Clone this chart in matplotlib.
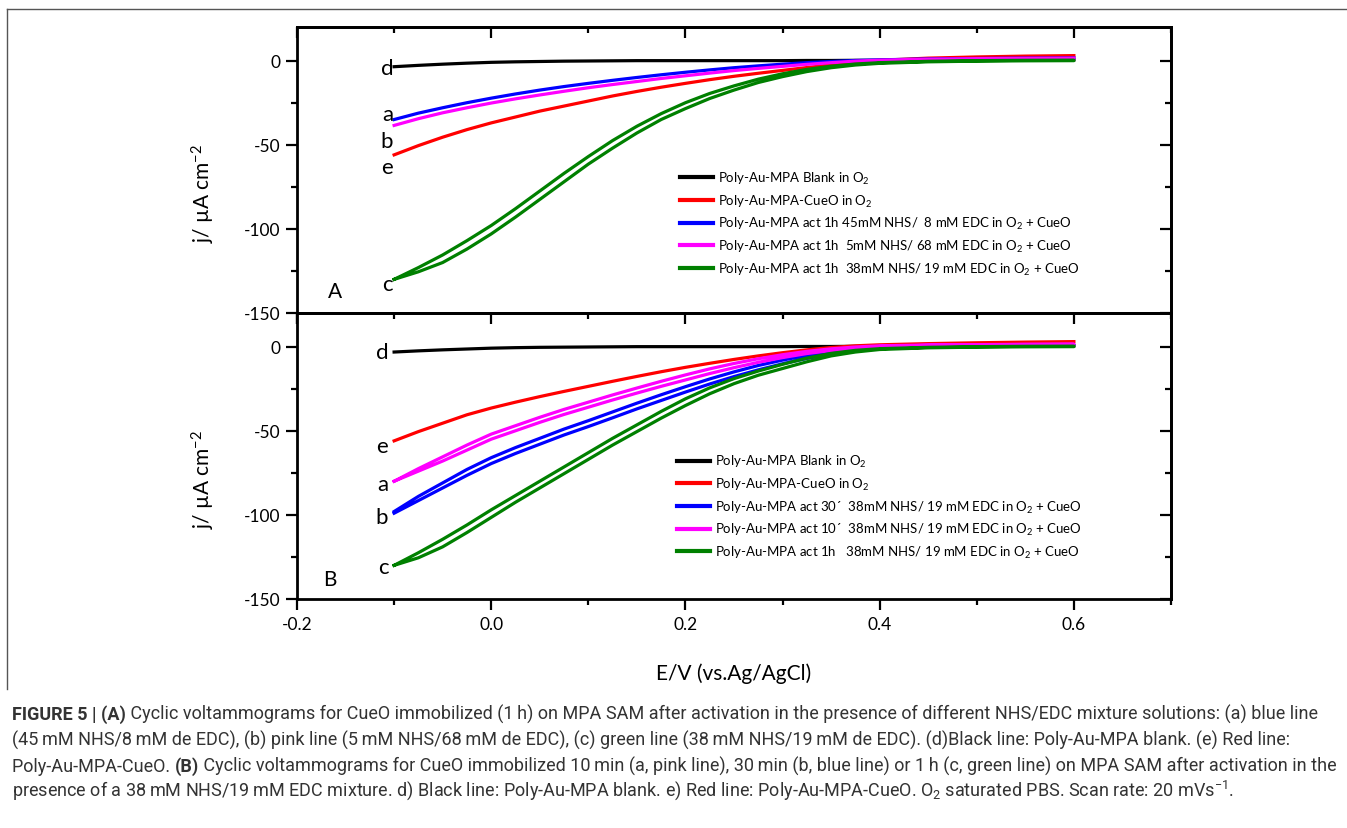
import matplotlib
matplotlib.use("Agg")
import matplotlib.pyplot as plt
from matplotlib import font_manager
from matplotlib.lines import Line2D
from matplotlib.text import Annotation
from matplotlib.ticker import MultipleLocator

# potential grid (V vs Ag/AgCl), shared by every curve
E = [-0.1, -0.075, -0.05, -0.025, 0.0, 0.025, 0.05, 0.075, 0.1, 0.125, 0.15, 0.175, 0.2,
     0.225, 0.25, 0.275, 0.3, 0.325, 0.35, 0.375, 0.4, 0.45, 0.5, 0.55, 0.6]

# panel A, current density (uA cm-2)
a_blank = [-3.6, -2.8, -2.1, -1.5, -1.0, -0.7, -0.5, -0.3, -0.2, -0.1, 0.0, 0.0, 0.0,
           0.0, 0.0, 0.0, 0.0, 0.1, 0.1, 0.2, 0.2, 0.3, 0.4, 0.4, 0.5]
a_cueo = [-56, -50.5, -45.5, -41, -37, -33.5, -30, -27, -24, -21, -18.3, -15.8, -13.5,
          -11.3, -9.3, -7.5, -5.8, -4.1, -2.5, -1.0, 0.2, 1.5, 2.2, 2.7, 3.0]
a_45_8 = [-35, -31.2, -28, -25, -22.3, -19.8, -17.5, -15.4, -13.5, -11.7, -10, -8.4, -6.9,
          -5.5, -4.2, -3.1, -2.1, -1.2, -0.5, 0.1, 0.5, 1.0, 1.3, 1.5, 1.6]
a_5_68 = [-38.5, -34.5, -31, -28, -25.2, -22.7, -20.4, -18.2, -16.1, -14.2, -12.4, -10.6, -9,
          -7.4, -5.9, -4.6, -3.4, -2.2, -1.2, -0.3, 0.3, 0.9, 1.2, 1.4, 1.5]
a_38_19_fwd = [-130, -123, -115.5, -107, -98, -88, -77.5, -67, -57, -47.5, -39, -31.5, -25,
               -19.5, -15, -11, -7.8, -5.2, -3.3, -2, -1.2, -0.4, 0.0, 0.2, 0.3]
a_38_19_rev = [-130, -125.5, -120, -112, -103, -93, -82.5, -72, -61.5, -52, -43, -35, -28.5,
               -22.5, -17.5, -13, -9.5, -6.5, -4.2, -2.6, -1.6, -0.7, -0.3, -0.1, 0.0]

# panel B
b_blank = [-3.2, -2.5, -1.9, -1.4, -0.9, -0.6, -0.4, -0.3, -0.2, -0.1, 0.0, 0.0, 0.0,
           0.0, 0.0, 0.0, 0.0, 0.1, 0.1, 0.2, 0.2, 0.3, 0.4, 0.4, 0.5]
b_cueo = [-56, -50.5, -45.5, -40.5, -36.5, -33, -29.7, -26.6, -23.6, -20.6, -17.7, -14.9, -12.3,
          -9.9, -7.6, -5.5, -3.6, -1.9, -0.5, 0.5, 1.1, 1.8, 2.3, 2.7, 3.0]
b_30min_fwd = [-98, -89, -81, -73, -66, -60, -54.5, -49, -44, -38.8, -33.6, -28.6, -23.8,
               -19.2, -15, -11.2, -8, -5.2, -3, -1.3, -0.2, 0.5, 0.8, 1.0, 1.2]
b_30min_rev = [-99, -91.5, -84, -76.5, -69.5, -63.5, -58, -52.5, -47.5, -42.3, -37, -32, -27,
               -22.2, -17.8, -13.8, -10.2, -7, -4.4, -2.4, -1.0, 0.3, 0.7, 0.9, 1.1]
b_10min_fwd = [-80, -72.5, -65.5, -58.5, -52, -47, -42, -37.3, -33, -28.7, -24.6, -20.6, -16.8,
               -13.2, -10, -7.2, -4.8, -2.8, -1.3, -0.2, 0.5, 1.0, 1.2, 1.4, 1.5]
b_10min_rev = [-80, -74, -68, -61.5, -55, -50, -45, -40.3, -36, -31.7, -27.6, -23.6, -19.8,
               -16, -12.5, -9.3, -6.5, -4.1, -2.3, -0.9, 0.1, 0.8, 1.1, 1.3, 1.4]
b_1h_fwd = [-130, -122.5, -114.5, -106, -97, -88.5, -80, -71.5, -63, -54.5, -46.5, -38.5, -31,
            -24.5, -19, -14.5, -10.5, -6.8, -4, -2.2, -1.2, -0.4, 0.0, 0.2, 0.3]
b_1h_rev = [-130, -125.5, -119, -110.5, -101.5, -92.5, -84, -75.5, -67, -58.5, -50.5, -42.5, -35,
            -28, -22, -17, -13, -9, -5.5, -3.2, -1.7, -0.7, -0.3, -0.1, 0.0]

colors = ["black", "#ff0000", "#0000ff", "#ff00ff", "#008000"]
legend_a = [
    r"Poly-Au-MPA Blank in $\mathregular{O_2}$",
    r"Poly-Au-MPA-CueO in $\mathregular{O_2}$",
    r"Poly-Au-MPA act 1h 45mM NHS/  8 mM EDC in $\mathregular{O_2}$ + CueO",
    r"Poly-Au-MPA act 1h  5mM NHS/ 68 mM EDC in $\mathregular{O_2}$ + CueO",
    r"Poly-Au-MPA act 1h  38mM NHS/ 19 mM EDC in $\mathregular{O_2}$ + CueO",
]
legend_b = [
    r"Poly-Au-MPA Blank in $\mathregular{O_2}$",
    r"Poly-Au-MPA-CueO in $\mathregular{O_2}$",
    r"Poly-Au-MPA act 30´  38mM NHS/ 19 mM EDC in $\mathregular{O_2}$ + CueO",
    r"Poly-Au-MPA act 10´  38mM NHS/ 19 mM EDC in $\mathregular{O_2}$ + CueO",
    r"Poly-Au-MPA act 1h   38mM NHS/ 19 mM EDC in $\mathregular{O_2}$ + CueO",
]
# curve letters: (label, E, j)
letters_a = [("d", -0.101, -4.2), ("a", -0.101, -32), ("b", -0.101, -48),
             ("e", -0.101, -63), ("c", -0.101, -133)]
letters_b = [("d", -0.106, -3), ("e", -0.106, -59), ("a", -0.106, -81.5),
             ("b", -0.106, -101), ("c", -0.106, -131)]

caption = [
    [("FIGURE 5 | (A)", True),
     (" Cyclic voltammograms for CueO immobilized (1\u2009h) on MPA SAM after activation in the "
      "presence of different NHS/EDC mixture solutions: (a) blue line", False)],
    [("(45\u2009mM NHS/8\u2009mM de EDC), (b) pink line (5\u2009mM NHS/68\u2009mM de EDC), (c) green line "
      "(38\u2009mM NHS/19\u2009mM de EDC). (d)Black line: Poly-Au-MPA blank. (e) Red line:", False)],
    [("Poly-Au-MPA-CueO. ", False), ("(B)", True),
     (" Cyclic voltammograms for CueO immobilized 10\u2009min (a, pink line), 30\u2009min (b, blue line) "
      "or 1\u2009h (c, green line) on MPA SAM after activation in the", False)],
    [("presence of a 38\u2009mM NHS/19\u2009mM EDC mixture. d) Black line: Poly-Au-MPA blank. e) Red line: "
      r"Poly-Au-MPA-CueO. $\mathregular{O_2}$ saturated PBS. Scan rate: 20 mVs$\mathregular{^{-1}}$.", False)],
]


def pick_font(names):
    for name in names:
        try:
            font_manager.findfont(name, fallback_to_default=False)
            return name
        except Exception:
            continue
    return "DejaVu Sans"


CHART_FONT = pick_font(["Lato", "Open Sans"])
CAPTION_FONT = pick_font(["Liberation Sans Narrow", "Roboto", "Liberation Sans"])

plt.rcParams["font.family"] = [CHART_FONT, "DejaVu Sans"]
plt.rcParams["axes.unicode_minus"] = False

W, H = 1347, 829
fig = plt.figure(figsize=(W / 100, H / 100), dpi=100)

left, width = 297 / W, 874 / W
ax_a = fig.add_axes([left, (H - 314) / H, width, 286 / H])
ax_b = fig.add_axes([left, (H - 600) / H, width, 286 / H])


def style_axes(ax, show_x):
    ax.set_xlim(-0.2, 0.7)
    ax.set_ylim(-150, 20)
    ax.xaxis.set_major_locator(MultipleLocator(0.2))
    ax.xaxis.set_minor_locator(MultipleLocator(0.1))
    ax.yaxis.set_major_locator(MultipleLocator(50))
    ax.yaxis.set_minor_locator(MultipleLocator(25))
    for sp in ax.spines.values():
        sp.set_linewidth(2.0)
    ax.tick_params(which="major", direction="out", length=8, width=1.6,
                   labelsize=12.5, pad=4)
    ax.tick_params(which="minor", direction="out", length=4.5, width=1.6)
    ax.xaxis.set_major_formatter(plt.FuncFormatter(lambda v, p: f"{v:.1f}"))
    ax.yaxis.set_major_formatter(plt.FuncFormatter(lambda v, p: f"{v:.0f}"))
    if not show_x:
        ax.tick_params(axis="x", labelbottom=False)
    top = ax.secondary_xaxis("top")
    top.xaxis.set_major_locator(MultipleLocator(0.2))
    top.xaxis.set_minor_locator(MultipleLocator(0.1))
    top.tick_params(which="major", direction="in", length=8, width=1.6, labeltop=False)
    top.tick_params(which="minor", direction="in", length=4.5, width=1.6)
    right = ax.secondary_yaxis("right")
    right.yaxis.set_major_locator(MultipleLocator(50))
    right.yaxis.set_minor_locator(MultipleLocator(25))
    right.tick_params(which="major", direction="in", length=8, width=1.6, labelright=False)
    right.tick_params(which="minor", direction="in", length=4.5, width=1.6)
    for sec in (top, right):
        for sp in sec.spines.values():
            sp.set_linewidth(2.0)
    ax.set_ylabel(r"j/ µA cm$\mathregular{^{-2}}$", fontsize=15)
    ax.yaxis.set_label_coords(-0.092, 0.42)


def loop(fwd, rev):
    return E + E[::-1], fwd + rev[::-1]


lw = 2.3
# panel A
ax_a.plot(E, a_blank, color=colors[0], lw=lw, label=legend_a[0])
ax_a.plot(E, a_cueo, color=colors[1], lw=lw, label=legend_a[1])
ax_a.plot(E, a_45_8, color=colors[2], lw=lw, label=legend_a[2])
ax_a.plot(E, a_5_68, color=colors[3], lw=lw, label=legend_a[3])
x, y = loop(a_38_19_fwd, a_38_19_rev)
ax_a.plot(x, y, color=colors[4], lw=lw, label=legend_a[4])

# panel B
ax_b.plot(E, b_blank, color=colors[0], lw=lw, label=legend_b[0])
ax_b.plot(E, b_cueo, color=colors[1], lw=lw, label=legend_b[1])
x, y = loop(b_30min_fwd, b_30min_rev)
ax_b.plot(x, y, color=colors[2], lw=lw, label=legend_b[2])
x, y = loop(b_10min_fwd, b_10min_rev)
ax_b.plot(x, y, color=colors[3], lw=lw, label=legend_b[3])
x, y = loop(b_1h_fwd, b_1h_rev)
ax_b.plot(x, y, color=colors[4], lw=lw, label=legend_b[4])

for ax, letters, panel, pxy, show_x in (
    (ax_a, letters_a, "A", (-0.161, -137), False),
    (ax_b, letters_b, "B", (-0.166, -138), True),
):
    style_axes(ax, show_x)
    for txt, ex, jy in letters:
        ax.text(ex, jy, txt, fontsize=16, ha="right", va="center")
    ax.text(pxy[0], pxy[1], panel, fontsize=15, ha="center", va="center")

leg_kw = dict(frameon=False, fontsize=9.5, handlelength=2.5, handletextpad=0.4,
              labelspacing=0.5, borderpad=0, borderaxespad=0, loc="upper left")
ax_a.legend(bbox_to_anchor=(0.438, 0.50), **leg_kw)
ax_b.legend(bbox_to_anchor=(0.435, 0.51), **leg_kw)
for leg in (ax_a.get_legend(), ax_b.get_legend()):
    for h in leg.legend_handles:
        h.set_linewidth(3)

ax_b.set_xlabel("E/V (vs.Ag/AgCl)", fontsize=15, labelpad=22)

# frame lines of the figure panel
fig.add_artist(Line2D([7 / W, 1.0], [1 - 10 / H, 1 - 10 / H], transform=fig.transFigure,
                      color="#555555", lw=1.0))
fig.add_artist(Line2D([7 / W, 7 / W], [1 - 10 / H, 1 - 690 / H], transform=fig.transFigure,
                      color="#555555", lw=1.0))

# caption: one font size, chosen so the widest line fits the page
renderer = fig.canvas.get_renderer()
cap_family = [CAPTION_FONT, "DejaVu Sans"]


def line_width(segments, size):
    total = 0
    for txt, bold in segments:
        t = fig.text(0, 0, txt, fontsize=size, family=cap_family,
                     fontweight="bold" if bold else "normal")
        total += t.get_window_extent(renderer).width
        t.remove()
    return total


base = 13
cap_size = min(base * (1334 - 12) / line_width(seg, base) for seg in caption)
line_y = [712, 738, 764, 790]
for segments, yp in zip(caption, line_y):
    last = None
    for txt, bold in segments:
        kw = dict(fontsize=cap_size, family=cap_family, color="#333333",
                  fontweight="bold" if bold else "normal", ha="left", va="bottom")
        if last is None:
            last = fig.text(12 / W, 1 - (yp + 12) / H, txt, **kw)
        else:
            last = fig.add_artist(Annotation(txt, xy=(1, 0), xycoords=last, **kw))

fig.savefig("out.png", dpi=100)
